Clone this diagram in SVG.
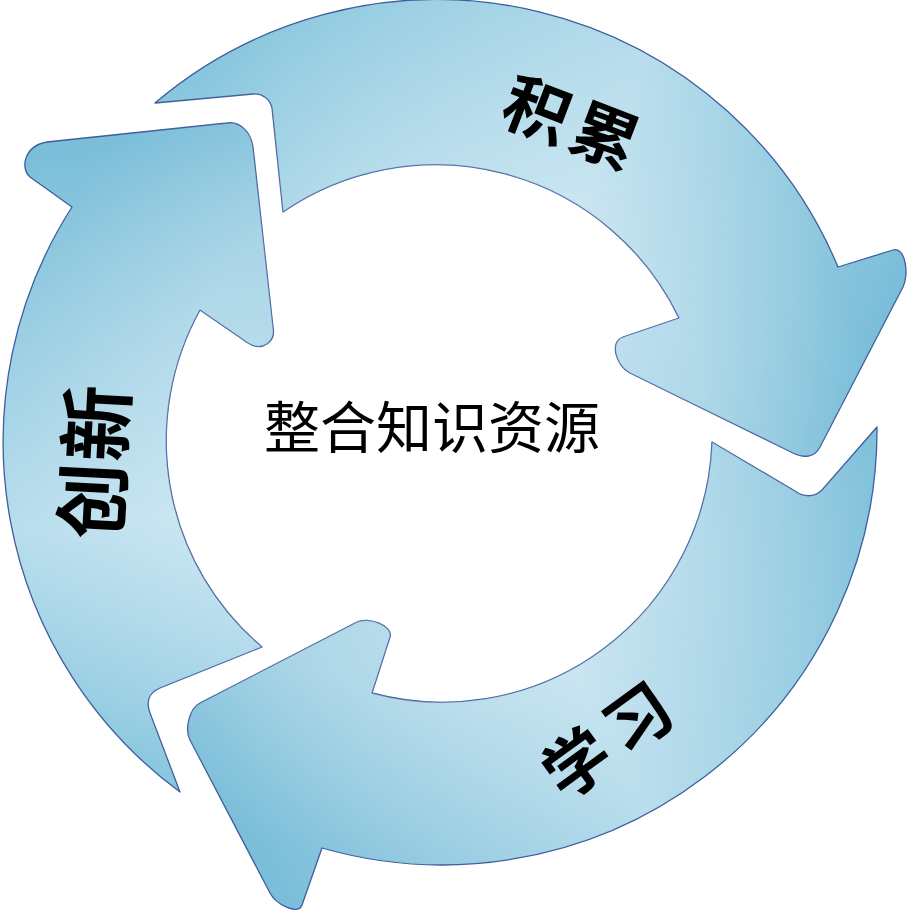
<svg xmlns="http://www.w3.org/2000/svg" width="915" height="911" viewBox="0 0 915 911">
  <defs>
    <linearGradient id="g1" gradientUnits="userSpaceOnUse" x1="200" y1="790" x2="150" y2="140">
      <stop offset="0" stop-color="#86c5de"/>
      <stop offset="0.42" stop-color="#b9deed"/>
      <stop offset="1" stop-color="#7bbed9"/>
    </linearGradient>
    <linearGradient id="g2" gradientUnits="userSpaceOnUse" x1="180" y1="140" x2="840" y2="420">
      <stop offset="0" stop-color="#88c6de"/>
      <stop offset="0.55" stop-color="#b8ddec"/>
      <stop offset="1" stop-color="#7bbed9"/>
    </linearGradient>
    <linearGradient id="g3" gradientUnits="userSpaceOnUse" x1="860" y1="440" x2="220" y2="780">
      <stop offset="0" stop-color="#80c1db"/>
      <stop offset="0.5" stop-color="#b8ddec"/>
      <stop offset="1" stop-color="#7bbed9"/>
    </linearGradient>
    <radialGradient id="glow" gradientUnits="userSpaceOnUse" cx="438" cy="435" r="440">
      <stop offset="0.6" stop-color="#ffffff" stop-opacity="0.25"/>
      <stop offset="1" stop-color="#ffffff" stop-opacity="0"/>
    </radialGradient>
  </defs>
  <style>
    .arrow { stroke: #3d5e9e; stroke-width: 1.3; stroke-linejoin: round; }
    .glow { fill: url(#glow); stroke: none; }
    .lbl { font-family: "Noto Sans CJK SC", "Noto Sans CJK TC", sans-serif; fill: #000000; font-weight: 600; }
    .center { font-family: "Noto Sans CJK SC", "Noto Sans CJK TC", serif; fill: #000000; font-size: 56px; }
  </style>
  <rect width="915" height="911" fill="#ffffff"/>

  <g id="connectors">
    <g id="arrow-chuangxin">
      <path class="arrow" fill="url(#g1)" d="M180,792 A435,435 0 0 1 72,207 L30,177 C20,168 24,146 47,142 L227,123 C240,121 251,132 253,147 L273,327 C276,342 262,352 248,343 L200,310 A270,270 0 0 0 262,647 L160,688 C148,693 146,703 150,713 Z"/>
      <path class="glow" d="M180,792 A435,435 0 0 1 72,207 L30,177 C20,168 24,146 47,142 L227,123 C240,121 251,132 253,147 L273,327 C276,342 262,352 248,343 L200,310 A270,270 0 0 0 262,647 L160,688 C148,693 146,703 150,713 Z"/>
    </g>
    <g id="arrow-jilei">
      <path class="arrow" fill="url(#g2)" d="M155,103 A435,435 0 0 1 838,267 L893,250 C906,246 909,276 903,287 L820,447 C814.5,457.7 803.8,458.3 793,453 L630,373 C616.5,366.4 608.7,341.8 623,337 L679,318 A270,270 0 0 0 283,212 L272,108 C270,99 262,93 253,94 Z"/>
      <path class="glow" d="M155,103 A435,435 0 0 1 838,267 L893,250 C906,246 909,276 903,287 L820,447 C814.5,457.7 803.8,458.3 793,453 L630,373 C616.5,366.4 608.7,341.8 623,337 L679,318 A270,270 0 0 0 283,212 L272,108 C270,99 262,93 253,94 Z"/>
    </g>
    <g id="arrow-xuexi">
      <path class="arrow" fill="url(#g3)" d="M877,427 A435,435 0 0 1 322,848 L302,905 C298,916.3 275.6,903.6 270,893 L190,740 C184.4,729.4 189.3,708.5 200,703 L357,622 C367.7,616.5 393.7,625.6 390,637 L372,693 A270,270 0 0 0 712,442 L795,491 C803,497 814,498 822,490 Z"/>
      <path class="glow" d="M877,427 A435,435 0 0 1 322,848 L302,905 C298,916.3 275.6,903.6 270,893 L190,740 C184.4,729.4 189.3,708.5 200,703 L357,622 C367.7,616.5 393.7,625.6 390,637 L372,693 A270,270 0 0 0 712,442 L795,491 C803,497 814,498 822,490 Z"/>
    </g>
  </g>

  <g id="label-jilei">
    <text class="lbl" font-size="66" letter-spacing="7" text-anchor="middle" dominant-baseline="central" transform="translate(576,120) rotate(21)">积累</text>
  </g>
  <g id="label-chuangxin">
    <text class="lbl" font-size="76" letter-spacing="2" text-anchor="middle" dominant-baseline="central" transform="translate(90,461) rotate(-87)">创新</text>
  </g>
  <g id="label-xuexi">
    <text class="lbl" font-size="66" letter-spacing="10" text-anchor="middle" dominant-baseline="central" transform="translate(609,734) rotate(-36)">学习</text>
  </g>
  <g id="center">
    <text class="center" x="432" y="448" text-anchor="middle">整合知识资源</text>
  </g>
</svg>
